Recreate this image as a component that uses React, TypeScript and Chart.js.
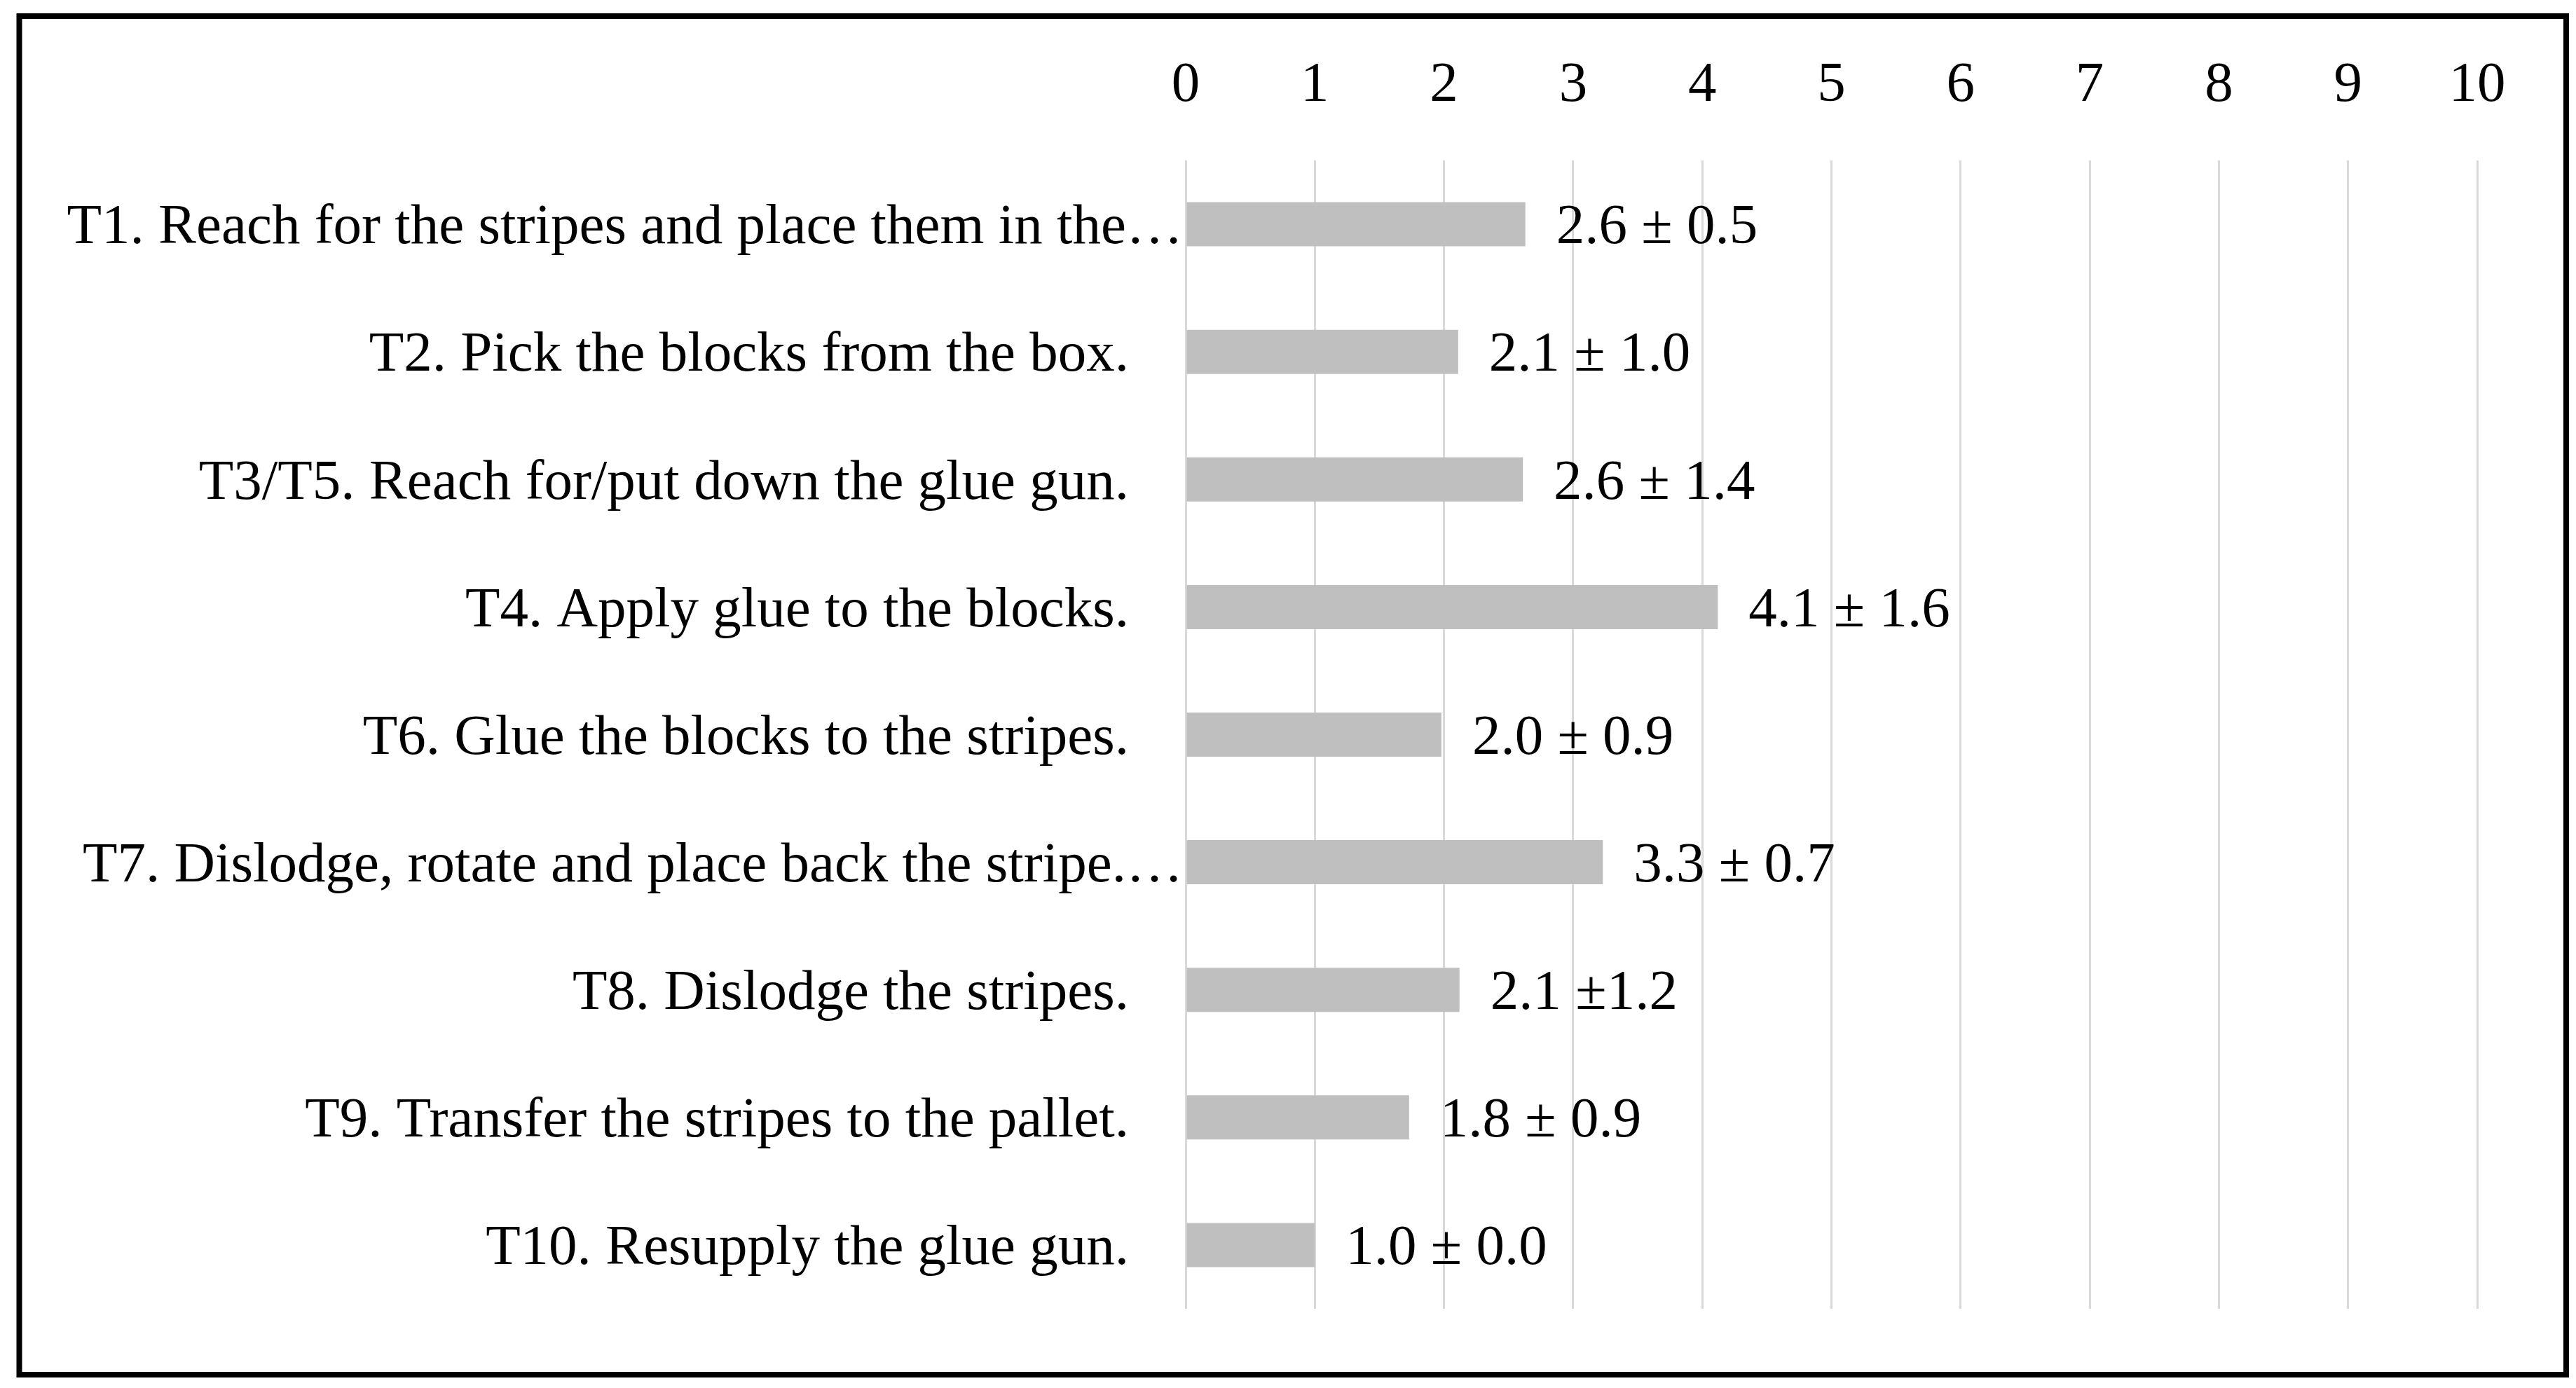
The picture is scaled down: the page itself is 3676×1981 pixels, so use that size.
import React, { useEffect, useRef } from "react";
import { Chart, registerables } from "chart.js";

Chart.register(...registerables);

const categories = [
  "T1. Reach for the stripes and place them in the…",
  "T2. Pick the blocks from the box.",
  "T3/T5. Reach for/put down the glue gun.",
  "T4. Apply glue to the blocks.",
  "T6. Glue the blocks to the stripes.",
  "T7. Dislodge, rotate and place back the stripe.…",
  "T8. Dislodge the stripes.",
  "T9. Transfer the stripes to the pallet.",
  "T10. Resupply the glue gun.",
];
const truncatedLabels = [true, false, false, false, false, true, false, false, false];
const meanValues = [2.63, 2.11, 2.61, 4.12, 1.98, 3.23, 2.12, 1.73, 1.0];
const valueLabels = [
  "2.6 ± 0.5",
  "2.1 ± 1.0",
  "2.6 ± 1.4",
  "4.1 ± 1.6",
  "2.0 ± 0.9",
  "3.3 ± 0.7",
  "2.1 ±1.2",
  "1.8 ± 0.9",
  "1.0 ± 0.0",
];
const xMin = 0;
const xMax = 10;
const xStep = 1;

const FONT_FAMILY = "'Liberation Serif', 'Times New Roman', serif";
const FONT_SIZE = 81;
const W = 3676;
const H = 1981;

export default function App() {
  const ref = useRef<HTMLCanvasElement | null>(null);

  useEffect(() => {
    if (!ref.current) return;
    const valueLabelPlugin = {
      id: "valueLabels",
      afterDatasetsDraw(chart: any) {
        const ctx = chart.ctx;
        const meta = chart.getDatasetMeta(0);
        ctx.save();
        ctx.font = `${FONT_SIZE}px ${FONT_FAMILY}`;
        ctx.fillStyle = "#000";
        ctx.textAlign = "left";
        ctx.textBaseline = "middle";
        meta.data.forEach((bar: any, i: number) => {
          ctx.fillText(valueLabels[i], bar.x + 44, bar.y + 6);
        });
        ctx.restore();
      },
    };
    const framePlugin = {
      id: "frame",
      afterDraw(chart: any) {
        const ctx = chart.ctx;
        ctx.save();
        ctx.strokeStyle = "#000";
        ctx.lineWidth = 8;
        ctx.strokeRect(27.5, 23, 3662 - 27.5, 1962 - 23);
        ctx.restore();
      },
    };
    const bgPlugin = {
      id: "bg",
      beforeDraw(chart: any) {
        const ctx = chart.ctx;
        ctx.save();
        ctx.fillStyle = "#fff";
        ctx.fillRect(0, 0, chart.width, chart.height);
        ctx.restore();
      },
    };

    const chart = new Chart(ref.current, {
      type: "bar",
      data: {
        labels: categories,
        datasets: [
          {
            data: meanValues,
            backgroundColor: "#bfbfbf",
            borderWidth: 0,
            barPercentage: 0.346,
            categoryPercentage: 1,
          },
        ],
      },
      options: {
        indexAxis: "y",
        responsive: false,
        animation: false,
        devicePixelRatio: 1,
        layout: { padding: { left: 0, right: 141, top: 0, bottom: 113 } },
        plugins: {
          legend: { display: false },
          tooltip: { enabled: false },
          title: { display: false },
        },
        scales: {
          x: {
            position: "top",
            min: xMin,
            max: xMax,
            afterFit(scale: any) {
              scale.height = 229;
            },
            ticks: {
              stepSize: xStep,
              color: "#000",
              font: { family: FONT_FAMILY, size: FONT_SIZE },
              padding: 58,
            },
            grid: {
              color: "#d9d9d9",
              lineWidth: 3,
              drawTicks: false,
            },
            border: { display: false },
          },
          y: {
            afterFit(scale: any) {
              scale.width = 1692;
            },
            ticks: {
              color: "#000",
              font: { family: FONT_FAMILY, size: FONT_SIZE },
              padding: 4,
              labelOffset: 6,
              autoSkip: false,
              callback: (_v: any, i: number) =>
                truncatedLabels[i] ? categories[i] : categories[i] + "\u2002\u2005\u2009",
            },
            grid: { display: false, drawTicks: false },
            border: { display: false },
          },
        },
      },
      plugins: [bgPlugin, valueLabelPlugin, framePlugin],
    });
    return () => chart.destroy();
  }, []);

  return (
    <div style={{ position: "absolute", left: 0, top: 0, width: W, height: H, background: "#fff" }}>
      <canvas ref={ref} width={W} height={H} style={{ display: "block", width: W, height: H }} />
    </div>
  );
}
